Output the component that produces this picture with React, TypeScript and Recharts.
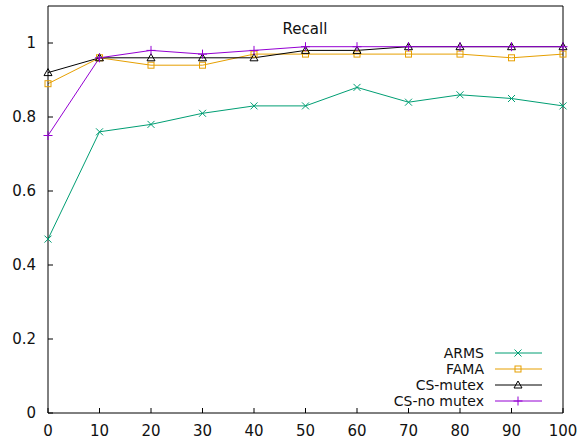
import React from 'react';
import { LineChart, Line, XAxis, YAxis, Legend } from 'recharts';

const steps = [0, 10, 20, 30, 40, 50, 60, 70, 80, 90, 100];
const arms = [0.47, 0.76, 0.78, 0.81, 0.83, 0.83, 0.88, 0.84, 0.86, 0.85, 0.83];
const fama = [0.89, 0.96, 0.94, 0.94, 0.97, 0.97, 0.97, 0.97, 0.97, 0.96, 0.97];
const csMutex = [0.92, 0.96, 0.96, 0.96, 0.96, 0.98, 0.98, 0.99, 0.99, 0.99, 0.99];
const csNoMutex = [0.75, 0.96, 0.98, 0.97, 0.98, 0.99, 0.99, 0.99, 0.99, 0.99, 0.99];
const yTicks = [0, 0.2, 0.4, 0.6, 0.8, 1];

const data = steps.map((x, i) => ({
  x,
  arms: arms[i],
  fama: fama[i],
  csMutex: csMutex[i],
  csNoMutex: csNoMutex[i],
}));

const FONT = '"DejaVu Sans", sans-serif';

type Shape = 'cross' | 'square' | 'triangle' | 'plus';

const Marker = ({ shape, cx, cy, color }: { shape: Shape; cx: number; cy: number; color: string }) => {
  const s = 3.5;
  if (shape === 'cross') {
    return (
      <g stroke={color} strokeWidth={1}>
        <line x1={cx - s} y1={cy - s} x2={cx + s} y2={cy + s} />
        <line x1={cx - s} y1={cy + s} x2={cx + s} y2={cy - s} />
      </g>
    );
  }
  if (shape === 'square') {
    return <rect x={cx - 3} y={cy - 3} width={6} height={6} fill="none" stroke={color} strokeWidth={1} />;
  }
  if (shape === 'triangle') {
    return (
      <polygon
        points={`${cx},${cy - 4} ${cx - 4},${cy + 3} ${cx + 4},${cy + 3}`}
        fill="none"
        stroke={color}
        strokeWidth={1}
      />
    );
  }
  return (
    <g stroke={color} strokeWidth={1}>
      <line x1={cx} y1={cy - 4.5} x2={cx} y2={cy + 4.5} />
      <line x1={cx - 4.5} y1={cy} x2={cx + 4.5} y2={cy} />
    </g>
  );
};

const series: { key: string; name: string; color: string; shape: Shape }[] = [
  { key: 'arms', name: 'ARMS', color: '#009e73', shape: 'cross' },
  { key: 'fama', name: 'FAMA', color: '#e69f00', shape: 'square' },
  { key: 'csMutex', name: 'CS-mutex', color: '#000000', shape: 'triangle' },
  { key: 'csNoMutex', name: 'CS-no mutex', color: '#9400d3', shape: 'plus' },
];

const renderDot = (shape: Shape, color: string) => (props: any) => {
  const { cx, cy, index } = props;
  if (cx == null || cy == null) return <g key={index} />;
  return (
    <g key={index}>
      <Marker shape={shape} cx={cx} cy={cy} color={color} />
    </g>
  );
};

const GnuLegend = () => (
  <div style={{ fontFamily: FONT, fontSize: 14, color: '#111' }}>
    {series.map((s) => (
      <div key={s.key} style={{ display: 'flex', alignItems: 'center', height: 16 }}>
        <div style={{ width: 104, textAlign: 'right', lineHeight: '16px' }}>{s.name}</div>
        <svg width={58} height={16} style={{ marginLeft: 11 }}>
          <line x1={0} y1={8} x2={47} y2={8} stroke={s.color} strokeWidth={1} />
          <Marker shape={s.shape} cx={23} cy={8} color={s.color} />
        </svg>
      </div>
    ))}
  </div>
);

const tickStyle = { fontSize: 15, fontFamily: FONT, fill: '#111' };

export default function App() {
  return (
    <div style={{ position: 'absolute', left: 0, top: 0, width: 579, height: 439, background: '#fff' }}>
      <LineChart width={579} height={439} data={data} margin={{ top: 5, right: 15, left: 0, bottom: 0 }}>
        <XAxis
          dataKey="x"
          type="number"
          domain={[0, 100]}
          ticks={steps}
          height={26}
          tickSize={-5}
          tickMargin={17}
          stroke="#000"
          tick={tickStyle}
          interval={0}
        />
        <XAxis
          xAxisId="top"
          orientation="top"
          dataKey="x"
          type="number"
          domain={[0, 100]}
          allowDataOverflow
          ticks={steps}
          height={1}
          tickSize={-5}
          stroke="#000"
          tick={false}
        />
        <YAxis
          type="number"
          domain={[0, 1.1]}
          ticks={yTicks}
          width={48}
          tickSize={-5}
          tickMargin={17}
          stroke="#000"
          tick={tickStyle}
          interval={0}
        />
        <YAxis
          yAxisId="right"
          orientation="right"
          type="number"
          domain={[0, 1.1]}
          allowDataOverflow
          ticks={yTicks}
          width={1}
          tickSize={-5}
          stroke="#000"
          tick={false}
        />
        <Legend
          layout="horizontal"
          verticalAlign="middle"
          align="center"
          content={<GnuLegend />}
          wrapperStyle={{ left: 380, top: 345, width: 180 }}
        />
        {series.map((s) => (
          <Line
            key={s.key}
            dataKey={s.key}
            name={s.name}
            type="linear"
            stroke={s.color}
            strokeWidth={1}
            dot={renderDot(s.shape, s.color)}
            activeDot={false}
            isAnimationActive={false}
          />
        ))}
      </LineChart>
      <div
        style={{
          position: 'absolute',
          left: 255,
          top: 19,
          width: 100,
          textAlign: 'center',
          fontFamily: FONT,
          fontSize: 15,
          color: '#111',
          lineHeight: '20px',
        }}
      >
        Recall
      </div>
    </div>
  );
}
